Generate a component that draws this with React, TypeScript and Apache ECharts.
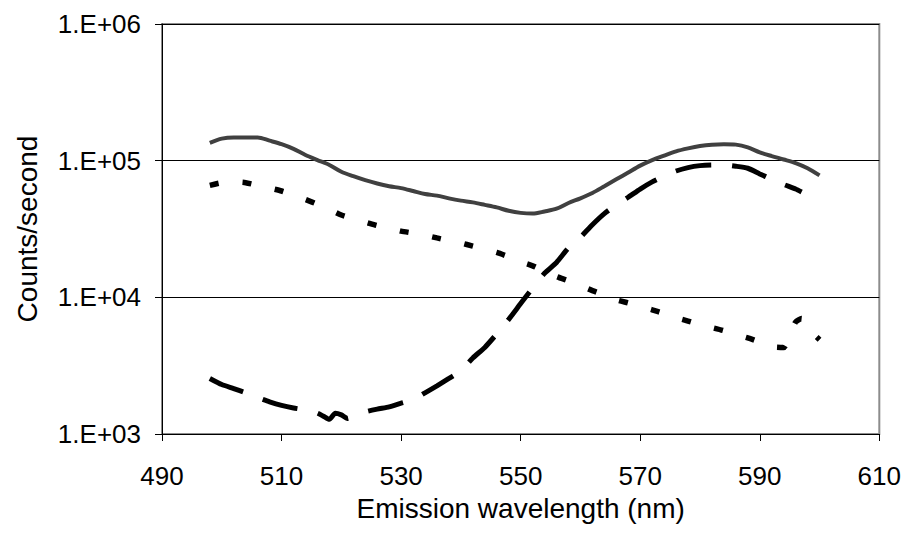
import React, { useEffect, useRef } from "react";
import * as echarts from "echarts";

const xTicks = [490, 510, 530, 550, 570, 590, 610];
const yTickLabels: Record<number, string> = { 3: "1.E+03", 4: "1.E+04", 5: "1.E+05", 6: "1.E+06" };

const solidNm = [498, 500, 502, 504, 506, 508, 510, 512, 514, 516, 518, 520, 522, 524, 526, 528, 530, 532, 534, 536, 538, 540, 542, 544, 546, 548, 550, 552, 554, 556, 558, 560, 562, 564, 566, 568, 570, 572, 574, 576, 578, 580, 582, 584, 586, 588, 590, 592, 594, 596, 598, 600];
const solidVal = [1.35e5, 1.45e5, 1.48e5, 1.48e5, 1.48e5, 1.4e5, 1.32e5, 1.22e5, 1.1e5, 1.01e5, 9.3e4, 8.3e4, 7.7e4, 7.2e4, 6.8e4, 6.5e4, 6.3e4, 6.0e4, 5.7e4, 5.55e4, 5.3e4, 5.1e4, 4.95e4, 4.75e4, 4.55e4, 4.3e4, 4.15e4, 4.1e4, 4.25e4, 4.45e4, 4.9e4, 5.3e4, 5.8e4, 6.5e4, 7.3e4, 8.2e4, 9.2e4, 1.01e5, 1.09e5, 1.17e5, 1.23e5, 1.28e5, 1.31e5, 1.32e5, 1.31e5, 1.25e5, 1.15e5, 1.08e5, 1.02e5, 9.6e4, 8.8e4, 7.8e4];

const dotNm = [498, 500, 502, 504, 506, 508, 510, 512, 514, 516, 518, 520, 522, 524, 526, 528, 530, 532, 534, 536, 538, 540, 542, 544, 546, 548, 550, 552, 554, 556, 558, 560, 562, 564, 566, 568, 570, 572, 574, 576, 578, 580, 582, 584, 586, 588, 590, 592, 594, 595, 596, 597, 598, 599, 600];
const dotVal = [6.6e4, 6.9e4, 7.0e4, 6.9e4, 6.6e4, 6.3e4, 6.0e4, 5.6e4, 5.2e4, 4.8e4, 4.4e4, 4.0e4, 3.75e4, 3.55e4, 3.35e4, 3.2e4, 3.05e4, 2.95e4, 2.85e4, 2.72e4, 2.6e4, 2.5e4, 2.37e4, 2.25e4, 2.13e4, 1.98e4, 1.82e4, 1.7e4, 1.55e4, 1.42e4, 1.32e4, 1.22e4, 1.12e4, 1.04e4, 9.6e3, 9.1e3, 8.6e3, 8.1e3, 7.6e3, 7.1e3, 6.7e3, 6.3e3, 6.0e3, 5.7e3, 5.35e3, 5.05e3, 4.7e3, 4.35e3, 4.3e3, 5.3e3, 6.6e3, 7.0e3, 6.0e3, 5.4e3, 4.9e3];

const dashNm = [498, 500, 502, 504, 506, 508, 510, 512, 514, 516, 517, 518, 519, 520, 521, 522, 524, 526, 528, 530, 532, 534, 536, 538, 540, 542, 544, 546, 548, 550, 552, 554, 556, 558, 560, 562, 564, 566, 568, 570, 572, 574, 576, 578, 580, 582, 584, 586, 588, 590, 592, 594, 596, 597];
const dashVal = [2.55e3, 2.3e3, 2.15e3, 2.0e3, 1.85e3, 1.72e3, 1.62e3, 1.55e3, 1.5e3, 1.42e3, 1.35e3, 1.28e3, 1.42e3, 1.38e3, 1.3e3, 1.34e3, 1.45e3, 1.52e3, 1.58e3, 1.68e3, 1.78e3, 2.0e3, 2.25e3, 2.55e3, 2.9e3, 3.6e3, 4.3e3, 5.4e3, 6.9e3, 9.0e3, 1.17e4, 1.5e4, 1.8e4, 2.3e4, 2.75e4, 3.4e4, 4.1e4, 4.75e4, 5.4e4, 6.2e4, 7.0e4, 7.7e4, 8.4e4, 8.9e4, 9.2e4, 9.3e4, 9.3e4, 9.1e4, 8.8e4, 8.0e4, 7.3e4, 6.7e4, 6.2e4, 5.9e4];

const zip = (xs: number[], ys: number[]) => xs.map((x, i) => [x, ys[i]]);

const FONT = "'Liberation Sans', Arial, sans-serif";

const isTop = (v: any) => {
  const n = Number(v);
  return n >= 1e6 * 0.999 || (n > 5.9 && n < 6.1);
};

export default function App() {
  const ref = useRef<HTMLDivElement>(null);
  useEffect(() => {
    if (!ref.current) return;
    const chart = echarts.init(ref.current, undefined, { renderer: "svg" });
    chart.setOption({
      animation: false,
      backgroundColor: "#ffffff",
      grid: {
        left: 162,
        top: 24,
        width: 718,
        height: 410,
        show: true,
        borderColor: "#8c8c8c",
        borderWidth: 2,
        backgroundColor: "transparent",
      },
      xAxis: {
        type: "value",
        min: xTicks[0],
        max: xTicks[xTicks.length - 1],
        interval: 20,
        name: "Emission wavelength (nm)",
        nameLocation: "middle",
        nameGap: 60,
        nameTextStyle: { fontFamily: FONT, fontSize: 28, color: "#000" },
        axisLine: { lineStyle: { color: "#000", width: 1 } },
        axisTick: { show: true, inside: false, length: 7, lineStyle: { color: "#000" } },
        axisLabel: { fontFamily: FONT, fontSize: 26, color: "#000", margin: 29 },
        splitLine: { show: false },
      },
      yAxis: {
        type: "log",
        logBase: 10,
        min: 1e3,
        max: 1e6,
        name: "Counts/second",
        nameLocation: "middle",
        nameGap: 121,
        nameTextStyle: { fontFamily: FONT, fontSize: 28, color: "#000" },
        axisLine: { show: true, lineStyle: { color: "#000", width: 1 } },
        axisTick: { show: true, inside: false, length: 7, lineStyle: { color: "#000" } },
        axisLabel: {
          fontFamily: FONT,
          fontSize: 26,
          color: "#000",
          margin: 21,
          formatter: (v: number) => yTickLabels[Math.round(Math.log10(v))] ?? "",
        },
        splitLine: {
          show: true,
          interval: (_i: number, v: any) => !isTop(v),
          lineStyle: { color: "#000", width: 1 },
        },
      },
      series: [
        {
          type: "line",
          data: zip(solidNm, solidVal),
          showSymbol: false,
          smooth: 0.3,
          lineStyle: { color: "#404040", width: 4, type: "solid" },
        },
        {
          type: "line",
          data: zip(dotNm, dotVal),
          showSymbol: false,
          smooth: 0.2,
          lineStyle: { color: "#000", width: 5.5, type: [9, 24], cap: "butt" },
        },
        {
          type: "line",
          data: zip(dashNm, dashVal),
          showSymbol: false,
          smooth: 0.2,
          lineStyle: { color: "#000", width: 5, type: [36, 21], cap: "butt" },
        },
      ],
    });
    return () => chart.dispose();
  }, []);
  return <div ref={ref} style={{ width: 904, height: 538, position: "absolute", left: 0, top: 0 }} />;
}
